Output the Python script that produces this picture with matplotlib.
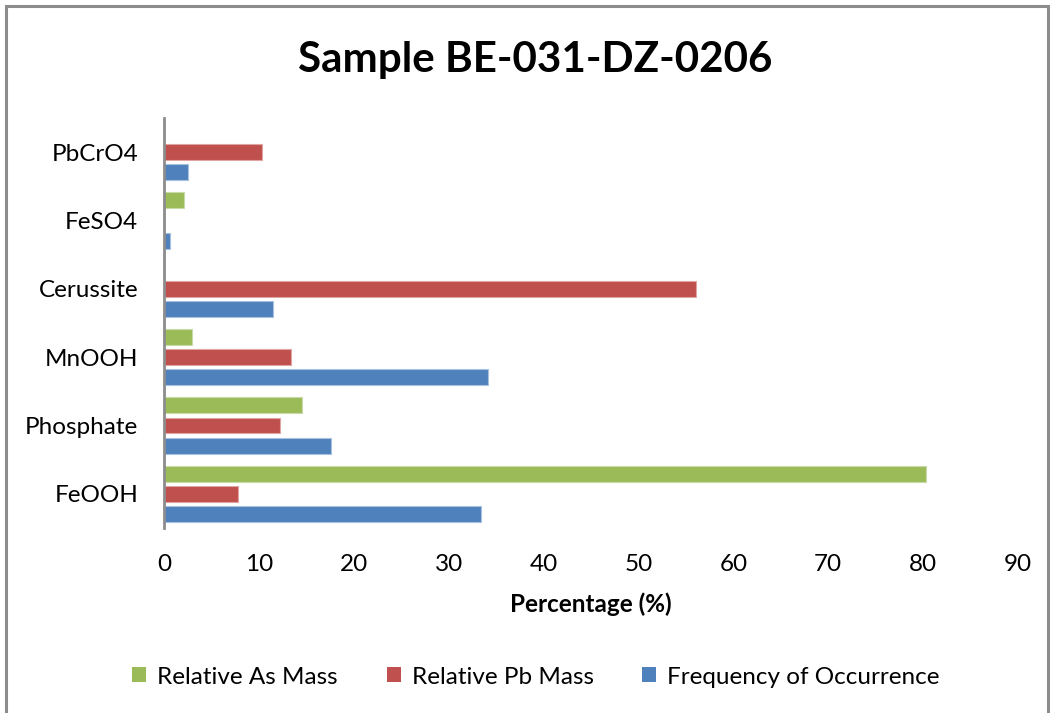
import matplotlib
matplotlib.use("Agg")
import matplotlib.pyplot as plt
from matplotlib.patches import Rectangle, Patch
import numpy as np

categories = ["FeOOH", "Phosphate", "MnOOH", "Cerussite", "FeSO4", "PbCrO4"]
as_mass = [80.3, 14.5, 3.0, 0.0, 2.1, 0.0]
pb_mass = [7.8, 12.2, 13.4, 56.1, 0.0, 10.3]
freq = [33.4, 17.6, 34.1, 11.5, 0.6, 2.5]
series_names = ["Relative As Mass", "Relative Pb Mass", "Frequency of Occurrence"]
colors = ["#9BBB59", "#C0504D", "#4F81BD"]
edges = ["#C9DBA6", "#DFA5A3", "#A9C1E0"]
xticks = [0, 10, 20, 30, 40, 50, 60, 70, 80, 90]

plt.rcParams['font.family'] = ['Lato', 'DejaVu Sans']

W, H = 1050, 713
fig = plt.figure(figsize=(W / 100, H / 100), dpi=100)
fig.patch.set_facecolor("white")

# outer border
fig.patches.append(Rectangle((6 / W, -0.05), (1048 - 6) / W, (H - 6) / H + 0.05,
                             transform=fig.transFigure, fill=False,
                             edgecolor="#8C8C8C", linewidth=2.2))

ax = fig.add_axes([164 / W, (H - 528) / H, (1018 - 164) / W, 410 / H])
y = np.arange(len(categories))
off = 0.293
h = 0.234
ax.barh(y + off, as_mass, height=h, color=colors[0], edgecolor=edges[0], linewidth=0.8, label=series_names[0])
ax.barh(y, pb_mass, height=h, color=colors[1], edgecolor=edges[1], linewidth=0.8, label=series_names[1])
ax.barh(y - off, freq, height=h, color=colors[2], edgecolor=edges[2], linewidth=0.8, label=series_names[2])

ax.set_xlim(0, 90)
ax.set_ylim(-0.5, 5.5)
ax.set_yticks(y)
ax.set_yticklabels(categories, fontsize=17.5)
ax.set_xticks(xticks)
ax.set_xticklabels([str(t) for t in xticks], fontsize=17.5)
ax.tick_params(axis="y", length=0, pad=18.5)
ax.tick_params(axis="x", length=0, pad=19)
for s in ["top", "right", "bottom"]:
    ax.spines[s].set_visible(False)
ax.spines["left"].set_color("#8C8C8C")
ax.spines["left"].set_linewidth(2)

fig.text(535 / W, (H - 60) / H, "Sample BE-031-DZ-0206", ha="center", va="center",
         fontsize=30.3, fontweight="bold")
fig.text(591 / W, (H - 604) / H, "Percentage (%)", ha="center", va="center",
         fontsize=17.5, fontweight="bold")

handles = [Patch(facecolor=c, edgecolor="none") for c in colors]
fig.legend(handles, series_names, loc="center", bbox_to_anchor=(536 / W, (H - 677) / H),
           ncol=3, frameon=False, fontsize=17.5, handlelength=0.58, handleheight=0.58,
           handletextpad=0.45, columnspacing=2.0)

fig.savefig("out.png", dpi=100)
